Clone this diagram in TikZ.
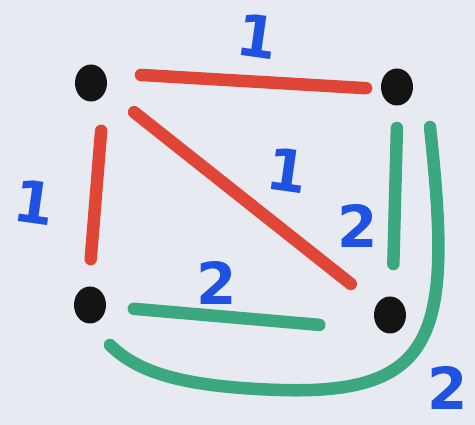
\documentclass[tikz,border=0pt]{standalone}
\usepackage{fontspec}
\setsansfont{DejaVu Sans}
\usetikzlibrary{shapes.geometric}
\definecolor{paper}{HTML}{E8EAF2}
\definecolor{markred}{HTML}{DF4638}
\definecolor{markgreen}{HTML}{3BA880}
\definecolor{markblue}{HTML}{1F52E0}

\begin{document}
\begin{tikzpicture}[
  x=1pt, y=-1pt,
  vertex/.style={ellipse, fill=black!92, minimum width=32pt, minimum height=37pt, inner sep=0pt},
  edge/.style={line width=12.5pt, line cap=round},
  redge/.style={edge, draw=markred},
  gedge/.style={edge, draw=markgreen},
  weight/.style={text=markblue, inner sep=0pt, font=\sffamily\bfseries\fontsize{58}{58}\selectfont}
]
\fill[paper] (0,0) rectangle (475,425);
\useasboundingbox (0,0) rectangle (475,425);

% vertices
\node[vertex] (tl) at (91,83) {};
\node[vertex] (tr) at (397,87) {};
\node[vertex] (bl) at (90,305) {};
\node[vertex] (br) at (390,315) {};

% red edges (weight 1)
\draw[redge, shorten <=50pt, shorten >=31pt] ([yshift=11pt]tl.center) -- ([yshift=-3pt]tr.center);
\draw[redge, shorten <=48pt, shorten >=46pt] ([xshift=14pt]tl.center) -- ([xshift=-3pt]bl.center);
\draw[redge, shorten <=55pt, shorten >=50pt] ([yshift=5pt]tl.center) -- (br.center);

% green edges (weight 2)
\draw[gedge, shorten <=41pt, shorten >=51pt] ([xshift=1pt]tr.center) -- ([xshift=2pt]br.center);
\draw[gedge, shorten <=44pt, shorten >=71pt] (bl.center) -- ([yshift=-16pt]br.center);
\draw[gedge] ([shift={(33,40)}]tr.center) .. controls (452,330) and (440,395) .. (280,390)
  .. controls (190,387) and (140,375) .. ([shift={(20,40)}]bl.center);

% weights
\node[weight, rotate=-8] (w top) at (257,36) {1};
\node[weight, rotate=-8] (w left) at (34,202) {1};
\node[weight, rotate=-8] (w diag) at (287,170) {1};
\node[weight] (w right) at (358,226) {2};
\node[weight] (w bottom) at (217,283) {2};
\node[weight] (w curve) at (448,388) {2};
\end{tikzpicture}
\end{document}
